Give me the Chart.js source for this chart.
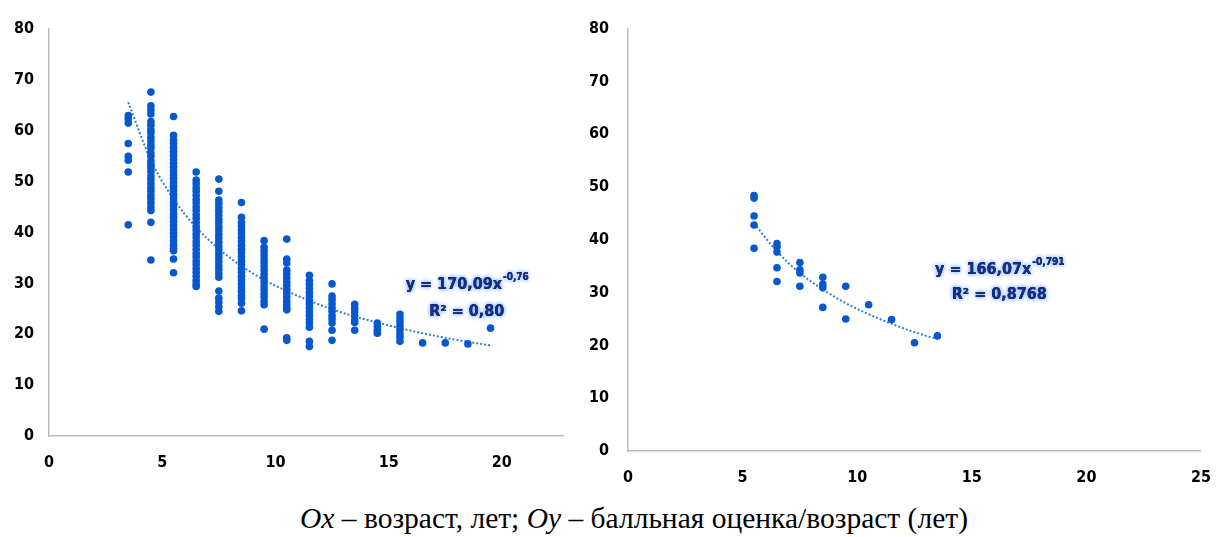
<!DOCTYPE html>
<html>
<head>
<meta charset="utf-8">
<script src="https://cdn.jsdelivr.net/npm/chart.js@4.4.1/dist/chart.umd.min.js"></script>
<title>Возраст и балльная оценка</title>
<style>
body {
  margin: 0;
  background: #ffffff;
}
.wrap {
  position: relative;
  width: 1228px;
  height: 537px;
  overflow: hidden;
}
#leftChart {
  position: absolute;
  left: 0;
  top: 0;
}
#rightChart {
  position: absolute;
  left: 580px;
  top: 0;
}
.caption {
  position: absolute;
  left: 20px;
  width: 1228px;
  top: 501px;
  line-height: 34px;
  text-align: center;
  font-family: "Liberation Serif", "Times New Roman", serif;
  font-size: 29.5px;
  color: #000;
}
</style>
</head>
<body>
<div class="wrap">
  <canvas id="leftChart" width="580" height="490"></canvas>
  <canvas id="rightChart" width="648" height="490"></canvas>
  <div class="caption"><i>Ox</i> – возраст, лет; <i>Oy</i> – балльная оценка/возраст (лет)</div>
</div>
<script>
// left chart: one column of scores per age
const leftAges = [3.5, 4.5, 5.5, 6.5, 7.5, 8.5, 9.5, 10.5, 11.5, 12.5, 13.5, 14.5, 15.5, 16.5, 17.5, 18.5, 19.5];
const leftScores = [
  [63.0, 62.3, 61.5, 57.5, 55.0, 54.2, 51.9, 41.5],
  [67.6, 64.9, 64.1, 63.3, 61.8, 61.1, 60.2, 59.6, 58.7, 58.0, 57.2, 56.6, 55.7, 55.0, 54.1, 53.4, 52.7, 52.0, 51.1, 50.4, 49.6, 48.8, 48.1, 47.3, 46.6, 45.8, 45.0, 44.3, 42.0, 34.6],
  [62.8, 59.1, 58.2, 57.5, 56.7, 55.9, 55.2, 54.4, 53.6, 52.9, 52.1, 51.3, 50.6, 49.8, 49.1, 48.3, 47.5, 46.8, 46.0, 45.3, 44.5, 43.7, 43.0, 42.2, 41.4, 40.7, 39.9, 39.2, 38.4, 37.6, 36.9, 36.4, 34.8, 32.1],
  [51.9, 50.3, 49.6, 48.8, 48.1, 47.3, 46.5, 45.8, 45.0, 44.3, 43.5, 42.8, 42.0, 41.2, 40.5, 39.7, 39.0, 38.2, 37.5, 36.7, 35.9, 35.2, 34.4, 33.7, 32.9, 32.2, 31.4, 30.6, 29.9, 29.4],
  [50.5, 48.1, 46.4, 45.7, 44.9, 44.2, 43.4, 42.6, 41.9, 41.1, 40.4, 39.6, 38.9, 38.1, 37.3, 36.6, 35.8, 35.1, 34.3, 33.5, 32.8, 32.0, 31.2, 28.5, 27.1, 26.3, 25.4, 24.5],
  [45.9, 43.0, 42.0, 41.3, 40.5, 39.8, 39.0, 38.2, 37.5, 36.7, 36.0, 35.2, 34.4, 33.7, 32.9, 32.2, 31.4, 30.7, 29.9, 29.1, 28.4, 27.6, 27.0, 26.1, 24.6],
  [38.4, 37.1, 36.4, 35.6, 34.8, 34.1, 33.3, 32.6, 31.8, 31.0, 30.3, 29.5, 28.8, 28.0, 27.3, 26.5, 25.8, 21.0],
  [38.7, 34.8, 34.0, 32.6, 31.9, 31.1, 30.3, 29.6, 28.8, 28.1, 27.3, 26.5, 25.8, 25.1, 24.8, 19.3, 18.8],
  [31.6, 30.5, 29.8, 29.0, 28.2, 27.5, 26.7, 26.0, 25.2, 24.4, 23.7, 22.9, 22.2, 21.4, 18.6, 17.6],
  [29.9, 27.5, 26.8, 26.0, 25.2, 24.5, 23.7, 23.0, 22.2, 20.8, 18.8],
  [25.9, 25.1, 24.4, 23.6, 22.8, 22.3, 20.8],
  [22.2, 21.5, 20.8, 20.2],
  [23.9, 23.1, 22.4, 21.6, 20.9, 20.1, 19.4, 18.6],
  [18.3],
  [18.3],
  [18.1],
  [21.2]
];
const leftTrendX = [3.5, 4.5, 5.5, 6.5, 7.5, 8.5, 9.5, 10.5, 11.5, 12.5, 13.5, 14.5, 15.5, 16.5, 17.5, 18.5, 19.5];
const leftTrendY = [65.6, 54.2, 46.6, 41.0, 36.8, 33.4, 30.7, 28.5, 26.6, 24.9, 23.5, 22.3, 21.2, 20.2, 19.3, 18.5, 17.8];

// right chart
const rightAges = [5.5, 5.5, 5.5, 5.5, 5.5, 6.5, 6.5, 6.5, 6.5, 6.5, 7.5, 7.5, 7.5, 7.5, 8.5, 8.5, 8.5, 8.5, 9.5, 9.5, 10.5, 11.5, 12.5, 13.5];
const rightScores = [48.4, 47.9, 44.5, 42.8, 38.4, 39.3, 38.7, 37.7, 34.7, 32.1, 35.7, 34.3, 33.7, 31.2, 32.9, 31.6, 30.9, 27.2, 31.2, 25.0, 27.7, 24.9, 20.5, 21.8];
const rightTrendX = [5.5, 6.5, 7.5, 8.5, 9.5, 10.5, 11.5, 12.5, 13.5];
const rightTrendY = [43.1, 37.8, 33.7, 30.6, 28.0, 25.9, 24.1, 22.5, 21.2];

const yTicks = [0, 10, 20, 30, 40, 50, 60, 70, 80];

const pointColor = '#0758cf';
const trendColor = '#2a80da';
const axisColor = '#bcbcbc';
const tickFont = { family: "'DejaVu Sans Condensed', 'DejaVu Sans', sans-serif", weight: 'bold', size: 16 };

// equation labels with a light glow, like the Excel trendline label
const trendLabels = {
  id: 'trendLabels',
  afterDatasetsDraw(chart, args, opts) {
    const ctx = chart.ctx;
    const xs = chart.scales.x, ys = chart.scales.y;
    const big = "bold 16px 'DejaVu Sans Condensed', 'DejaVu Sans', sans-serif";
    const small = "bold 10px 'DejaVu Sans Condensed', 'DejaVu Sans', sans-serif";

    function glowText(txt, x, y, font) {
      ctx.font = font;
      ctx.textAlign = 'left';
      ctx.textBaseline = 'middle';
      ctx.shadowColor = 'rgba(120,175,255,0.95)';
      ctx.shadowBlur = 4;
      ctx.fillStyle = '#1b2c7c';
      ctx.fillText(txt, x, y);
      ctx.fillText(txt, x, y);
      ctx.shadowBlur = 0;
      ctx.shadowColor = 'transparent';
      ctx.fillText(txt, x, y);
    }

    ctx.save();
    const cx = xs.getPixelForValue(opts.eqX);
    const cy = ys.getPixelForValue(opts.eqY);
    ctx.font = big;
    const w1 = ctx.measureText(opts.base).width;
    ctx.font = small;
    const w2 = ctx.measureText(opts.exp).width;
    const x0 = cx - (w1 + w2) / 2;
    glowText(opts.base, x0, cy, big);
    glowText(opts.exp, x0 + w1 + 1, cy - 7, small);

    const ry = ys.getPixelForValue(opts.r2Y);
    ctx.font = big;
    const w3 = ctx.measureText(opts.r2).width;
    glowText(opts.r2, cx - w3 / 2, ry, big);
    ctx.restore();
  }
};

function makeChart(id, points, trendX, trendY, xMax, yWidth, xHeight, pad, yPad, label) {
  const trend = trendX.map((v, i) => ({ x: v, y: trendY[i] }));
  return new Chart(document.getElementById(id).getContext('2d'), {
    type: 'scatter',
    data: {
      datasets: [
        {
          data: points,
          backgroundColor: pointColor,
          borderColor: pointColor,
          borderWidth: 0,
          pointRadius: 3.8,
          order: 1
        },
        {
          type: 'line',
          data: trend,
          borderColor: trendColor,
          borderWidth: 2,
          borderDash: [2, 2],
          pointRadius: 0,
          tension: 0.4,
          cubicInterpolationMode: 'monotone',
          fill: false,
          order: 2
        }
      ]
    },
    options: {
      responsive: false,
      animation: false,
      devicePixelRatio: 1,
      layout: { padding: pad },
      plugins: {
        legend: { display: false },
        tooltip: { enabled: false },
        trendLabels: label
      },
      scales: {
        x: {
          type: 'linear',
          min: 0,
          max: xMax,
          grid: { display: false, drawTicks: false },
          border: { display: true, color: axisColor, width: 1.5 },
          ticks: {
            stepSize: 5,
            includeBounds: false,
            autoSkip: false,
            maxRotation: 0,
            padding: 17,
            color: '#000',
            font: tickFont
          },
          afterFit(scale) { scale.height = xHeight; }
        },
        y: {
          type: 'linear',
          min: 0,
          max: 80,
          grid: { display: false, drawTicks: false },
          border: { display: true, color: axisColor, width: 1.5 },
          afterBuildTicks(scale) { scale.ticks = yTicks.map(v => ({ value: v })); },
          ticks: {
            padding: yPad,
            color: '#000',
            font: tickFont
          },
          afterFit(scale) { scale.width = yWidth; }
        }
      }
    },
    plugins: [trendLabels]
  });
}

const leftPoints = [];
leftAges.forEach((age, i) => {
  leftScores[i].forEach(s => leftPoints.push({ x: age, y: s }));
});
const rightPoints = rightAges.map((age, i) => ({ x: age, y: rightScores[i] }));

makeChart('leftChart', leftPoints, leftTrendX, leftTrendY, 22.7, 49, 54,
  { top: 29, right: 17, bottom: 0, left: 0 }, 15,
  { eqX: 18.45, eqY: 29.7, r2Y: 24.4, base: 'y = 170,09x', exp: '-0,76', r2: 'R² = 0,80' });

makeChart('rightChart', rightPoints, rightTrendX, rightTrendY, 25, 48, 39,
  { top: 25, right: 14, bottom: 0, left: 0 }, 19,
  { eqX: 16.2, eqY: 34.4, r2Y: 29.5, base: 'y = 166,07x', exp: '-0,791', r2: 'R² = 0,8768' });
</script>
</body>
</html>
